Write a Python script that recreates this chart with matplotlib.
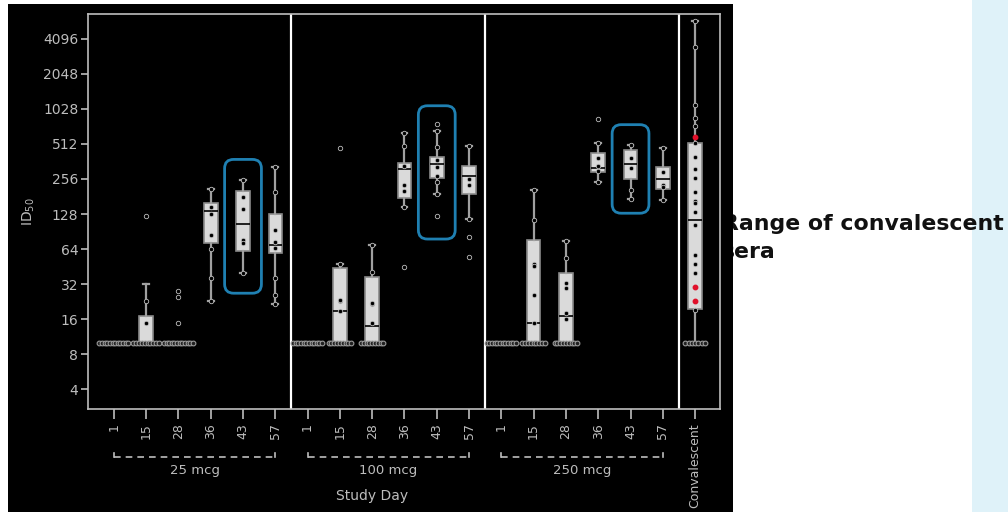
import numpy as np
import matplotlib.pyplot as plt
import matplotlib.transforms as mtransforms
from matplotlib.patches import FancyBboxPatch, Rectangle

# study days per dose group and the titer summaries
days = ['1', '15', '28', '36', '43', '57']
groups = ['25 mcg', '100 mcg', '250 mcg']
tick_labels = days * 3 + ['Convalescent']
ytick_vals = [4, 8, 16, 32, 64, 128, 256, 512, 1024, 2048, 4096]
ytick_text = ['4', '8', '16', '32', '64', '128', '256', '512', '1028', '2048', '4096']

q1 = [10, 10, 10, 72, 62, 59,
      10, 10, 10, 177, 263, 192,
      10, 10, 10, 292, 258, 208,
      19.5]
med = [10, 10, 10, 137, 104, 70,
       10, 18.8, 13.9, 309, 341, 274,
       10, 14.7, 16.9, 316, 341, 254,
       113]
q3 = [10, 17, 10, 158, 200, 127,
      10, 44, 36.5, 348, 399, 328,
      10, 76, 39.7, 424, 458, 322,
      526]
wlo = [10, 10, 10, 23, 40, 21.4,
       10, 10, 10, 146, 189, 117,
       10, 10, 10, 239, 171, 168,
       10]
whi = [10, 32, 10, 208, 249, 322,
       10, 48, 69, 630, 666, 494,
       10, 204, 75, 526, 505, 477,
       5840]
points = [
    [], [14.7, 22.8, 122], [14.7, 25, 28],
    [146, 127, 84, 64, 36, 23, 208], [178, 140, 76, 72, 40, 249],
    [94, 73, 65, 198, 36, 25.6, 322, 21.4],
    [], [48, 22.8, 23.5, 18.8, 470], [41, 21.4, 22, 14.7, 69],
    [333, 225, 200, 487, 630, 146, 45], [767, 375, 322, 269, 243, 189, 122, 666, 480],
    [258, 225, 494, 117, 82, 55],
    [], [48, 45.5, 25.6, 14.7, 113, 204], [32.5, 29.5, 18, 16, 54, 75],
    [391, 333, 300, 843, 526, 239], [391, 316, 204, 171, 505],
    [292, 225, 220, 477, 168],
    [3490, 1112, 861, 734, 526, 399, 309, 263, 197, 164, 158, 132, 103, 57, 48, 40, 19, 5840],
]
red_points = [592, 30, 23]
n_lod = [12, 10, 12, 0, 0, 0,
         12, 9, 9, 0, 0, 0,
         12, 9, 9, 0, 0, 0,
         7]
lod_half = [0.45, 0.4, 0.45, 0, 0, 0,
            0.45, 0.35, 0.35, 0, 0, 0,
            0.45, 0.35, 0.35, 0, 0, 0,
            0.3]
lod = 10

# boxes circled in blue (position, low, high)
hl_pos = [4, 10, 16]
hl_lo = [26.7, 78, 130]
hl_hi = [377, 1090, 750]

fig = plt.figure(figsize=(10.08, 5.12), dpi=100)
fig.patch.set_facecolor('white')

# light blue strip at right edge and the slide text under the image
fig.patches.append(Rectangle((972 / 1008, 0), 36 / 1008, 1, transform=fig.transFigure,
                             facecolor='#dff2f9', edgecolor='none', zorder=-2))
fig.text(722 / 1008, 1 - 238 / 512, 'Range of convalescent\nsera', fontsize=15.8,
         fontweight='bold', color='#111111', family='DejaVu Sans', va='center', ha='left',
         linespacing=1.45, zorder=-1)

# black picture background
bg = fig.add_axes([8 / 1008, 0, 725 / 1008, 508 / 512])
bg.set_facecolor('black')
bg.set_xticks([])
bg.set_yticks([])
for s in bg.spines.values():
    s.set_visible(False)

ax = fig.add_axes([88 / 1008, 103 / 512, 632 / 1008, 395 / 512], zorder=1)
ax.set_facecolor('none')
grey = '#bdbdbd'

pos = np.arange(len(med))
stats = []
for i in range(len(med)):
    stats.append(dict(q1=q1[i], med=med[i], q3=q3[i], whislo=wlo[i], whishi=whi[i], fliers=[]))
ax.bxp(stats, positions=pos, widths=0.42, patch_artist=True, showfliers=False,
       boxprops=dict(facecolor='#dadada', edgecolor='#8a8a8a', linewidth=1.2),
       medianprops=dict(color='black', linewidth=1.2),
       whiskerprops=dict(color='#a0a0a0', linewidth=1.6),
       capprops=dict(color='#a0a0a0', linewidth=1.6), capwidths=0.18)

for i in range(len(med)):
    if points[i]:
        ax.plot(np.full(len(points[i]), pos[i]), points[i], 'o', ms=3.2,
                mfc='black', mec=grey, mew=0.6, zorder=4)
    if n_lod[i]:
        xs = pos[i] + np.linspace(-lod_half[i], lod_half[i], n_lod[i])
        ax.plot(xs, np.full(n_lod[i], lod), 'o', ms=3.4, mfc='#202020', mec='#9a9a9a',
                mew=0.8, zorder=4)
ax.plot(np.full(len(red_points), pos[-1]), red_points, 'o', ms=3.2, mfc='#e0102a',
        mec='#e0102a', zorder=5)

ax.set_yscale('log', base=2)
ax.set_ylim(2.7, 6700)
ax.set_xlim(-0.8, 18.77)
ax.set_yticks(ytick_vals)
ax.set_yticklabels(ytick_text)
ax.yaxis.set_minor_locator(plt.NullLocator())
ax.set_xticks(pos)
ax.set_xticklabels(tick_labels, rotation=90)
ax.tick_params(colors=grey, labelcolor=grey, labelsize=9, width=1.2)
ax.tick_params(axis='x', length=7, pad=3)
ax.tick_params(axis='y', length=5, pad=2, labelsize=10)
for s in ax.spines.values():
    s.set_color(grey)
    s.set_linewidth(1.2)

for xs in [5.5, 11.5, 17.5]:
    ax.axvline(xs, color='white', lw=1.6, zorder=0)

ax.set_ylabel('ID$_{50}$', color=grey, fontsize=10, labelpad=4)

# dose group brackets under the day labels
xt = ax.get_xaxis_transform()
for g, name in enumerate(groups):
    a, b = g * 6, g * 6 + 5
    ax.plot([a, b], [-0.122, -0.122], transform=xt, color=grey, lw=1.2,
            ls=(0, (4, 3)), clip_on=False)
    ax.plot([a, a], [-0.122, -0.112], transform=xt, color=grey, lw=1.2, clip_on=False)
    ax.plot([b, b], [-0.122, -0.112], transform=xt, color=grey, lw=1.2, clip_on=False)
    ax.text((a + b) / 2, -0.155, name, transform=xt, ha='center', va='center',
            color=grey, fontsize=9.5)
ax.text(8, -0.22, 'Study Day', transform=xt, ha='center', va='center', color=grey, fontsize=10)

# blue rounded highlight boxes
for p, lo, hi in zip(hl_pos, hl_lo, hl_hi):
    x0, y0 = ax.transData.transform((p - 0.57, lo))
    x1, y1 = ax.transData.transform((p + 0.57, hi))
    box = FancyBboxPatch((x0, y0), x1 - x0, y1 - y0,
                         boxstyle='round,pad=0,rounding_size=9',
                         transform=mtransforms.IdentityTransform(),
                         facecolor='none', edgecolor='#1f80b2', linewidth=2, zorder=3)
    fig.patches.append(box)

fig.savefig('out.png', dpi=100)
